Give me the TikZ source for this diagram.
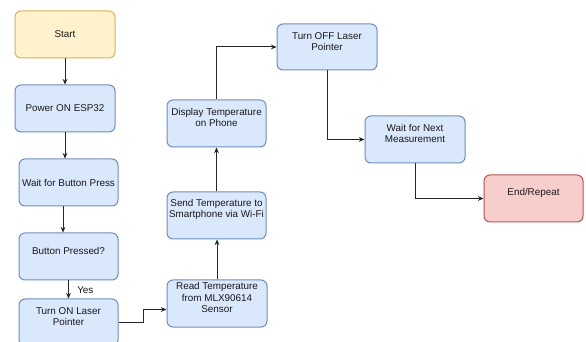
\documentclass[tikz,border=0pt]{standalone}
\usepackage{fontspec}
\setmainfont{Liberation Sans}
\usetikzlibrary{arrows.meta}
\definecolor{bfill}{HTML}{DAE8FC}
\definecolor{bdraw}{HTML}{6C8EBF}
\definecolor{yfill}{HTML}{FFF2CC}
\definecolor{ydraw}{HTML}{D6B656}
\definecolor{rfill}{HTML}{F8CECC}
\definecolor{rdraw}{HTML}{B85450}
\begin{document}
\begin{tikzpicture}[x=0.75pt,y=-0.75pt,
  box/.style={draw=bdraw, fill=bfill, rounded corners=4.5pt, line width=0.75pt,
    minimum width=75pt, minimum height=35.25pt, inner sep=0pt},
  ybox/.style={box, draw=ydraw, fill=yfill},
  rbox/.style={box, draw=rdraw, fill=rfill},
  lbl/.style={font=\fontsize{7.4}{8.4}\selectfont, align=center, text=black!90, inner sep=0pt},
  arr/.style={-{Stealth[length=4.2pt,width=3.6pt]}, line width=0.75pt, draw=black!85}]
\useasboundingbox (0,0) rectangle (586,342);
\clip (0,0) rectangle (586,342);
\fill[white] (0,0) rectangle (586,342);

\node[ybox, label={[lbl]center:{Start}}] (start) at (65,34.5) {};
\node[box, label={[lbl]center:{Power ON ESP32}}] (power) at (65,108.5) {};
\node[box, minimum width=74.25pt, label={[lbl]center:{Wait for Button Press}}] (wait) at (68.5,182.5) {};
\node[box, minimum width=74.25pt, label={[lbl,yshift=4.5pt]center:{Button Pressed?}}] (bp) at (68.5,256.5) {};
\node[box, minimum width=74.25pt, label={[lbl,yshift=4.2pt]center:{Turn ON Laser\\Pointer}}] (ton) at (68.5,322.5) {};
\node[box, label={[lbl,yshift=4.5pt]center:{Read Temperature\\from MLX90614\\Sensor}}] (read) at (217,303.5) {};
\node[box, minimum width=74.25pt, label={[lbl,yshift=4.5pt]center:{Send Temperature to\\Smartphone via Wi-Fi}}] (send) at (216.5,215.5) {};
\node[box, minimum width=74.25pt, label={[lbl,yshift=4.5pt]center:{Display Temperature\\on Phone}}] (disp) at (216.5,123.5) {};
\node[box, minimum height=34.5pt, label={[lbl,yshift=4.2pt]center:{Turn OFF Laser\\Pointer}}] (toff) at (327,47) {};
\node[box, label={[lbl,yshift=4.5pt]center:{Wait for Next\\Measurement}}] (wnext) at (415,139.5) {};
\node[rbox, minimum width=74.25pt, label={[lbl,yshift=4.5pt]center:{End/Repeat}}] (endr) at (533.5,198.5) {};

\node[lbl, anchor=west] (yes) at (77,290) {Yes};

\coordinate (b1) at (143,322.5);
\coordinate (b2) at (143,309.5);

\draw[arr] (start.south) -- (power.north);
\draw[arr] (power.south) -- (power.south |- wait.north);
\draw[arr] ([xshift=-4.1pt]wait.south) -- ([xshift=-4.1pt]wait.south |- bp.north);
\draw[arr] (bp.south) -- (ton.north);
\draw[arr] (ton.east) -- (b1) -- (b2) -- (b2 -| read.west);
\draw[arr] (read.north) -- (read.north |- send.south);
\draw[arr] (send.north) -- (disp.south);
\draw[arr] (disp.north) |- (toff.west);
\draw[arr] (toff.south) |- (wnext.west);
\draw[arr] (wnext.south) |- (endr.west);
\end{tikzpicture}
\end{document}
